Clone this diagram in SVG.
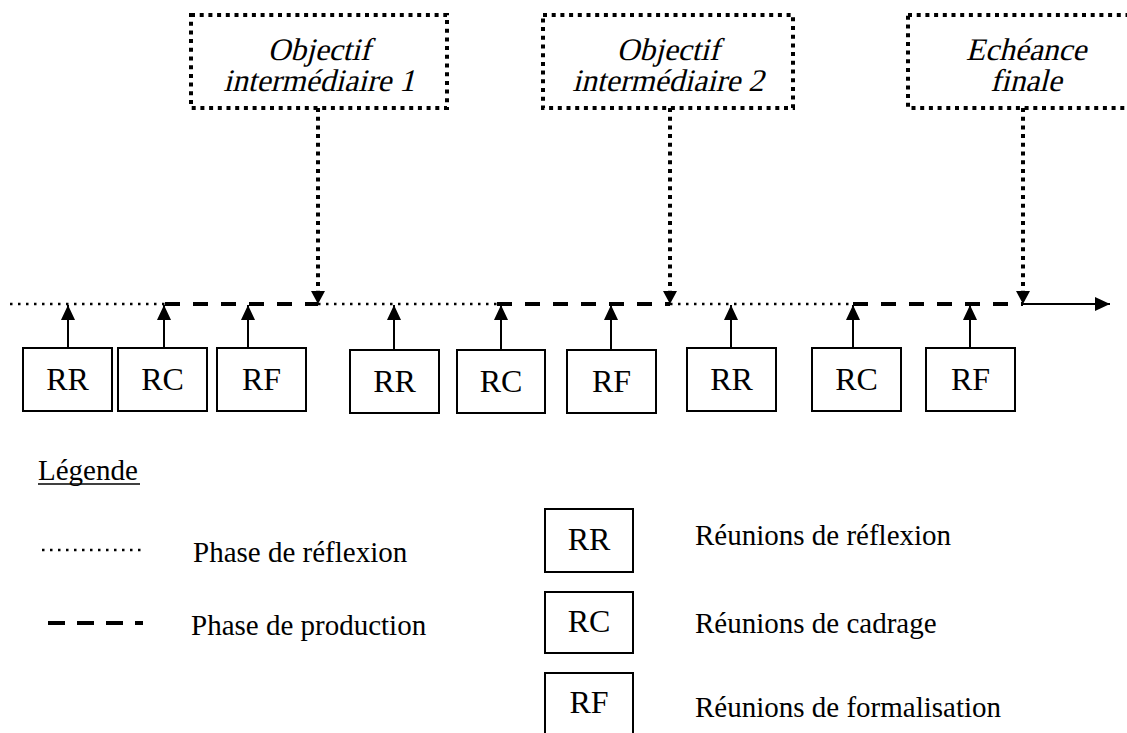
<svg xmlns="http://www.w3.org/2000/svg" width="1127" height="733" viewBox="0 0 1127 733">
<defs>
<style>
.t{font-family:"Liberation Serif","Times New Roman",serif;fill:#000}
.lbl{font-size:32px;text-anchor:middle}
.ital{font-size:31.5px;text-anchor:middle}
.leg{font-size:29px}
.box{fill:#fff;stroke:#000;stroke-width:2}
.dbox{fill:#fff;stroke:#000;stroke-width:4;stroke-dasharray:4 4.7}
.dotv{stroke:#000;stroke-width:4;stroke-dasharray:4 4.7;fill:none}
.dot{stroke:#000;stroke-width:2.5;stroke-dasharray:2.5 5.5;fill:none}
.dash{stroke:#000;stroke-width:4;stroke-dasharray:15 13;fill:none}
.solid{stroke:#000;stroke-width:2;fill:none}
</style>
<marker id="ah" markerWidth="16" markerHeight="16" viewBox="0 0 16 16" refX="15" refY="8" orient="auto" markerUnits="userSpaceOnUse">
<path d="M0,1 L15,8 L0,15 Z" fill="#000"/>
</marker>
</defs>
<rect width="1127" height="733" fill="#fff"/>

<g id="connectors">
<line class="dot" x1="10" y1="304" x2="165" y2="304"/>
<line class="dash" x1="165" y1="304" x2="318" y2="304"/>
<line class="dot" x1="318" y1="304" x2="497" y2="304"/>
<line class="dash" x1="497" y1="304" x2="670" y2="304"/>
<line class="dot" x1="670" y1="304" x2="853" y2="304"/>
<line class="dash" x1="853" y1="304" x2="1023" y2="304"/>
<line class="solid" x1="1023" y1="304" x2="1110" y2="304" marker-end="url(#ah)"/>
<line class="dotv" x1="318" y1="108" x2="318" y2="291"/>
<path d="M311,291 L325,291 L318,304 Z" fill="#000"/>
<line class="dotv" x1="670" y1="108" x2="670" y2="291"/>
<path d="M663,291 L677,291 L670,304 Z" fill="#000"/>
<line class="dotv" x1="1023" y1="108" x2="1023" y2="291"/>
<path d="M1016,291 L1030,291 L1023,304 Z" fill="#000"/>
<line class="solid" x1="68" y1="348" x2="68" y2="305" marker-end="url(#ah)"/>
<line class="solid" x1="164" y1="348" x2="164" y2="305" marker-end="url(#ah)"/>
<line class="solid" x1="248" y1="348" x2="248" y2="305" marker-end="url(#ah)"/>
<line class="solid" x1="394" y1="350" x2="394" y2="305" marker-end="url(#ah)"/>
<line class="solid" x1="501" y1="350" x2="501" y2="305" marker-end="url(#ah)"/>
<line class="solid" x1="611" y1="350" x2="611" y2="305" marker-end="url(#ah)"/>
<line class="solid" x1="731" y1="348" x2="731" y2="305" marker-end="url(#ah)"/>
<line class="solid" x1="853" y1="348" x2="853" y2="305" marker-end="url(#ah)"/>
<line class="solid" x1="970" y1="348" x2="970" y2="305" marker-end="url(#ah)"/>
</g>

<g id="obj1">
<rect class="dbox" x="191" y="15" width="256" height="93"/>
<text class="t ital" transform="translate(319,60) skewX(-14)">Objectif</text>
<text class="t ital" transform="translate(319,91) skewX(-14)">intermédiaire 1</text>
</g>
<g id="obj2">
<rect class="dbox" x="543" y="15" width="250" height="93"/>
<text class="t ital" transform="translate(668,60) skewX(-14)">Objectif</text>
<text class="t ital" transform="translate(668,91) skewX(-14)">intermédiaire 2</text>
</g>
<g id="final">
<rect class="dbox" x="908" y="15" width="240" height="93"/>
<text class="t ital" transform="translate(1026,60) skewX(-14)">Echéance</text>
<text class="t ital" transform="translate(1026,91) skewX(-14)">finale</text>
</g>

<g id="rr1"><rect class="box" x="23" y="348" width="89" height="63"/><text class="t lbl" x="67.5" y="390">RR</text></g>
<g id="rc1"><rect class="box" x="118" y="348" width="89" height="63"/><text class="t lbl" x="162.5" y="390">RC</text></g>
<g id="rf1"><rect class="box" x="217" y="348" width="89" height="63"/><text class="t lbl" x="261.5" y="390">RF</text></g>
<g id="rr2"><rect class="box" x="350" y="350" width="89" height="63"/><text class="t lbl" x="394.5" y="392">RR</text></g>
<g id="rc2"><rect class="box" x="457" y="350" width="88" height="63"/><text class="t lbl" x="501" y="392">RC</text></g>
<g id="rf2"><rect class="box" x="567" y="350" width="89" height="63"/><text class="t lbl" x="611.5" y="392">RF</text></g>
<g id="rr3"><rect class="box" x="687" y="348" width="89" height="63"/><text class="t lbl" x="731.5" y="390">RR</text></g>
<g id="rc3"><rect class="box" x="812" y="348" width="89" height="63"/><text class="t lbl" x="856.5" y="390">RC</text></g>
<g id="rf3"><rect class="box" x="926" y="348" width="89" height="63"/><text class="t lbl" x="970.5" y="390">RF</text></g>

<g id="legend">
<text class="t leg" x="38" y="480">Légende</text>
<line x1="38" y1="484" x2="140" y2="484" stroke="#000" stroke-width="1.5"/>
<line class="dot" x1="42" y1="550" x2="142" y2="550"/>
<text class="t leg" x="193" y="562">Phase de réflexion</text>
<line stroke="#000" stroke-width="4" stroke-dasharray="17 12" x1="48" y1="623" x2="143" y2="623"/>
<text class="t leg" x="191" y="635">Phase de production</text>
<g id="leg-rr"><rect class="box" x="545" y="509" width="88" height="63"/><text class="t lbl" x="589" y="550">RR</text></g>
<g id="leg-rc"><rect class="box" x="545" y="592" width="88" height="61"/><text class="t lbl" x="589" y="632">RC</text></g>
<g id="leg-rf"><rect class="box" x="545" y="673" width="88" height="70"/><text class="t lbl" x="589" y="713">RF</text></g>
<text class="t leg" x="695" y="545">Réunions de réflexion</text>
<text class="t leg" x="695" y="633">Réunions de cadrage</text>
<text class="t leg" x="695" y="717">Réunions de formalisation</text>
</g>
</svg>
